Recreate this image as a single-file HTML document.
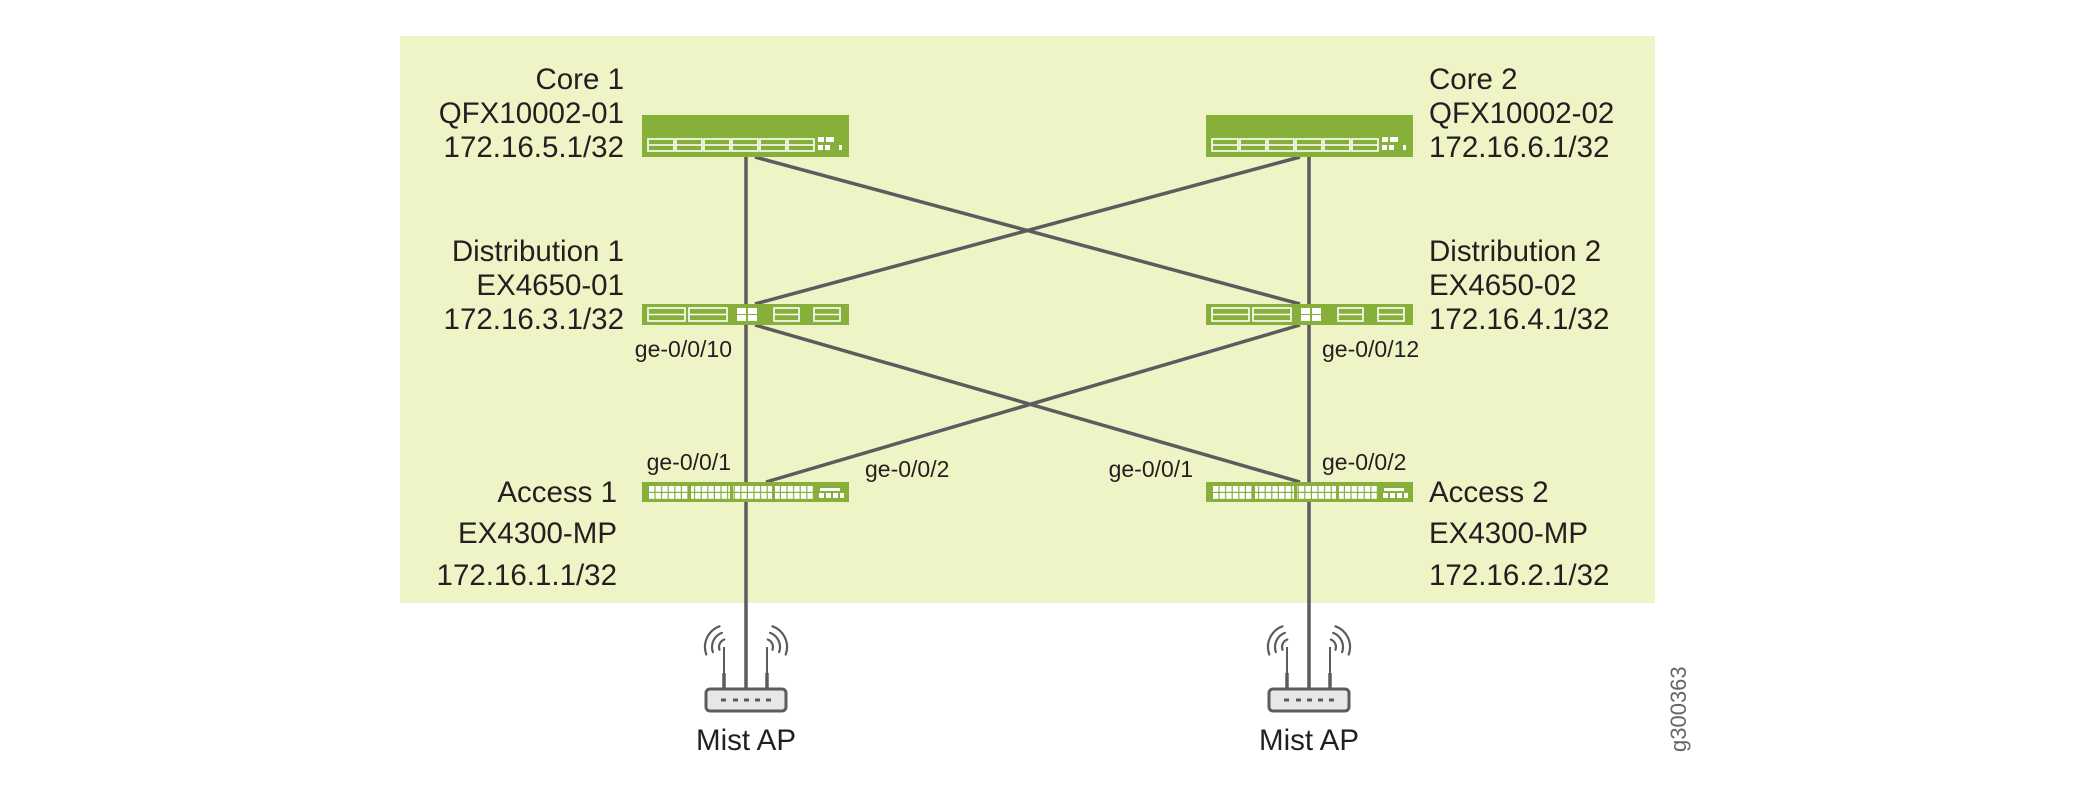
<!DOCTYPE html>
<html><head><meta charset="utf-8"><style>
html,body{margin:0;padding:0;background:#fff;}
svg{display:block;}
text{font-family:"Liberation Sans",sans-serif;fill:#231f20;}
</style></head><body>
<svg width="2100" height="785" viewBox="0 0 2100 785" xmlns="http://www.w3.org/2000/svg">
<defs>
<g id="core">
 <rect x="0" y="0" width="207" height="42" fill="#86b03a"/>
 <g fill="none" stroke="#fff" stroke-width="1.6">
  <rect x="6" y="24" width="26" height="12"/><line x1="6" y1="30" x2="32" y2="30"/>
  <rect x="34" y="24" width="26" height="12"/><line x1="34" y1="30" x2="60" y2="30"/>
  <rect x="62" y="24" width="26" height="12"/><line x1="62" y1="30" x2="88" y2="30"/>
  <rect x="90" y="24" width="26" height="12"/><line x1="90" y1="30" x2="116" y2="30"/>
  <rect x="118" y="24" width="26" height="12"/><line x1="118" y1="30" x2="144" y2="30"/>
  <rect x="146" y="24" width="26" height="12"/><line x1="146" y1="30" x2="172" y2="30"/>
 </g>
 <g fill="#fff"><rect x="176" y="22" width="6" height="5"/><rect x="184" y="22" width="8" height="5"/><rect x="176" y="30" width="5" height="5"/><rect x="183" y="30" width="5" height="5"/><rect x="197" y="30" width="3" height="5"/></g>
</g>
<g id="dist">
 <rect x="0" y="0" width="207" height="21" fill="#86b03a"/>
 <g fill="none" stroke="#fff" stroke-width="1.6">
  <rect x="6" y="4" width="37" height="13"/><line x1="6" y1="10.5" x2="43" y2="10.5"/>
  <rect x="47" y="4" width="38" height="13"/><line x1="47" y1="10.5" x2="85" y2="10.5"/>
  <rect x="132" y="4" width="25" height="13"/><line x1="132" y1="10.5" x2="157" y2="10.5"/>
  <rect x="172" y="4" width="26" height="13"/><line x1="172" y1="10.5" x2="198" y2="10.5"/>
 </g>
 <g fill="#fff"><rect x="95" y="4" width="9" height="6"/><rect x="106" y="4" width="9" height="6"/><rect x="95" y="11" width="9" height="6"/><rect x="106" y="11" width="9" height="6"/></g>
</g>
<pattern id="pp" x="0" y="0" width="6.6" height="7" patternUnits="userSpaceOnUse"><rect x="0" y="0" width="5.4" height="5.8" fill="#fff"/></pattern>
<g id="acc">
 <rect x="0" y="0" width="207" height="20" fill="#86b03a"/>
 <g transform="translate(7,4)">
  <rect x="0" y="0" width="39" height="13" fill="url(#pp)"/>
  <rect x="42" y="0" width="39" height="13" fill="url(#pp)"/>
  <rect x="84" y="0" width="39" height="13" fill="url(#pp)"/>
  <rect x="126" y="0" width="39" height="13" fill="url(#pp)"/>
 </g>
 <g fill="#fff"><rect x="178" y="6" width="20" height="3"/><rect x="177" y="11" width="5" height="5"/><rect x="184" y="11" width="5" height="5"/><rect x="191" y="11" width="5" height="5"/><rect x="198" y="11" width="4" height="5"/></g>
</g>
<g id="ap">
 <g fill="none" stroke="#5c5c5e" stroke-width="2.2" stroke-linecap="round">
  <path d="M-21.7,-49.5 A8,8 0 0 0 -26.5,-39.3"/>
  <path d="M-24.1,-56.1 A15,15 0 0 0 -33.1,-36.9"/>
  <path d="M-26.5,-62.7 A22,22 0 0 0 -39.7,-34.5"/>
  <path d="M21.7,-49.5 A8,8 0 0 1 26.5,-39.3"/>
  <path d="M24.1,-56.1 A15,15 0 0 1 33.1,-36.9"/>
  <path d="M26.5,-62.7 A22,22 0 0 1 39.7,-34.5"/>
 </g>
 <line x1="-22" y1="-42" x2="-22" y2="-16" stroke="#5c5c5e" stroke-width="2"/>
 <line x1="-22" y1="-16" x2="-22" y2="0" stroke="#5c5c5e" stroke-width="3.5"/>
 <line x1="21" y1="-42" x2="21" y2="-16" stroke="#5c5c5e" stroke-width="2"/>
 <line x1="21" y1="-16" x2="21" y2="0" stroke="#5c5c5e" stroke-width="3.5"/>
 <rect x="-40" y="0" width="80" height="22" rx="4" fill="#e6e7e8" stroke="#5c5c5e" stroke-width="3"/>
 <g stroke="#5c5c5e" stroke-width="3"><line x1="-25" y1="11" x2="-20" y2="11"/><line x1="-13" y1="11" x2="-8" y2="11"/><line x1="-2" y1="11" x2="3" y2="11"/><line x1="9" y1="11" x2="14" y2="11"/><line x1="20" y1="11" x2="25" y2="11"/></g>
</g>
</defs>
<rect x="400" y="36" width="1255" height="567" fill="#eef4c6"/>
<g stroke="#5c5c5e" stroke-width="3.5" fill="none">
 <line x1="746" y1="157" x2="746" y2="690"/>
 <line x1="1309" y1="157" x2="1309" y2="690"/>
 <line x1="755" y1="157" x2="1300" y2="304"/>
 <line x1="1300" y1="157" x2="755" y2="304"/>
 <line x1="755" y1="325" x2="1300" y2="482"/>
 <line x1="1300" y1="325" x2="766" y2="482"/>
</g>
<use href="#core" x="642" y="115"/>
<use href="#core" x="1206" y="115"/>
<use href="#dist" x="642" y="304"/>
<use href="#dist" x="1206" y="304"/>
<use href="#acc" x="642" y="482"/>
<use href="#acc" x="1206" y="482"/>
<use href="#ap" x="746" y="689"/>
<use href="#ap" x="1309" y="689"/>
<g font-size="29.5" text-anchor="end">
 <text x="624" y="89">Core 1</text>
 <text x="624" y="123">QFX10002-01</text>
 <text x="624" y="157">172.16.5.1/32</text>
 <text x="624" y="261">Distribution 1</text>
 <text x="624" y="295">EX4650-01</text>
 <text x="624" y="329">172.16.3.1/32</text>
 <text x="617" y="502">Access 1</text>
 <text x="617" y="543">EX4300-MP</text>
 <text x="617" y="585">172.16.1.1/32</text>
</g>
<g font-size="29.5">
 <text x="1429" y="89">Core 2</text>
 <text x="1429" y="123">QFX10002-02</text>
 <text x="1429" y="157">172.16.6.1/32</text>
 <text x="1429" y="261">Distribution 2</text>
 <text x="1429" y="295">EX4650-02</text>
 <text x="1429" y="329">172.16.4.1/32</text>
 <text x="1429" y="502">Access 2</text>
 <text x="1429" y="543">EX4300-MP</text>
 <text x="1429" y="585">172.16.2.1/32</text>
</g>
<g font-size="29.5" text-anchor="middle">
 <text x="746" y="750">Mist AP</text>
 <text x="1309" y="750">Mist AP</text>
</g>
<g font-size="23">
 <text x="732" y="357" text-anchor="end">ge-0/0/10</text>
 <text x="1322" y="357">ge-0/0/12</text>
 <text x="731" y="470" text-anchor="end">ge-0/0/1</text>
 <text x="865" y="477">ge-0/0/2</text>
 <text x="1193" y="477" text-anchor="end">ge-0/0/1</text>
 <text x="1322" y="470">ge-0/0/2</text>
</g>
<text x="0" y="0" font-size="22" transform="translate(1686,752) rotate(-90)" style="fill:#666">g300363</text>
</svg>
</body></html>
